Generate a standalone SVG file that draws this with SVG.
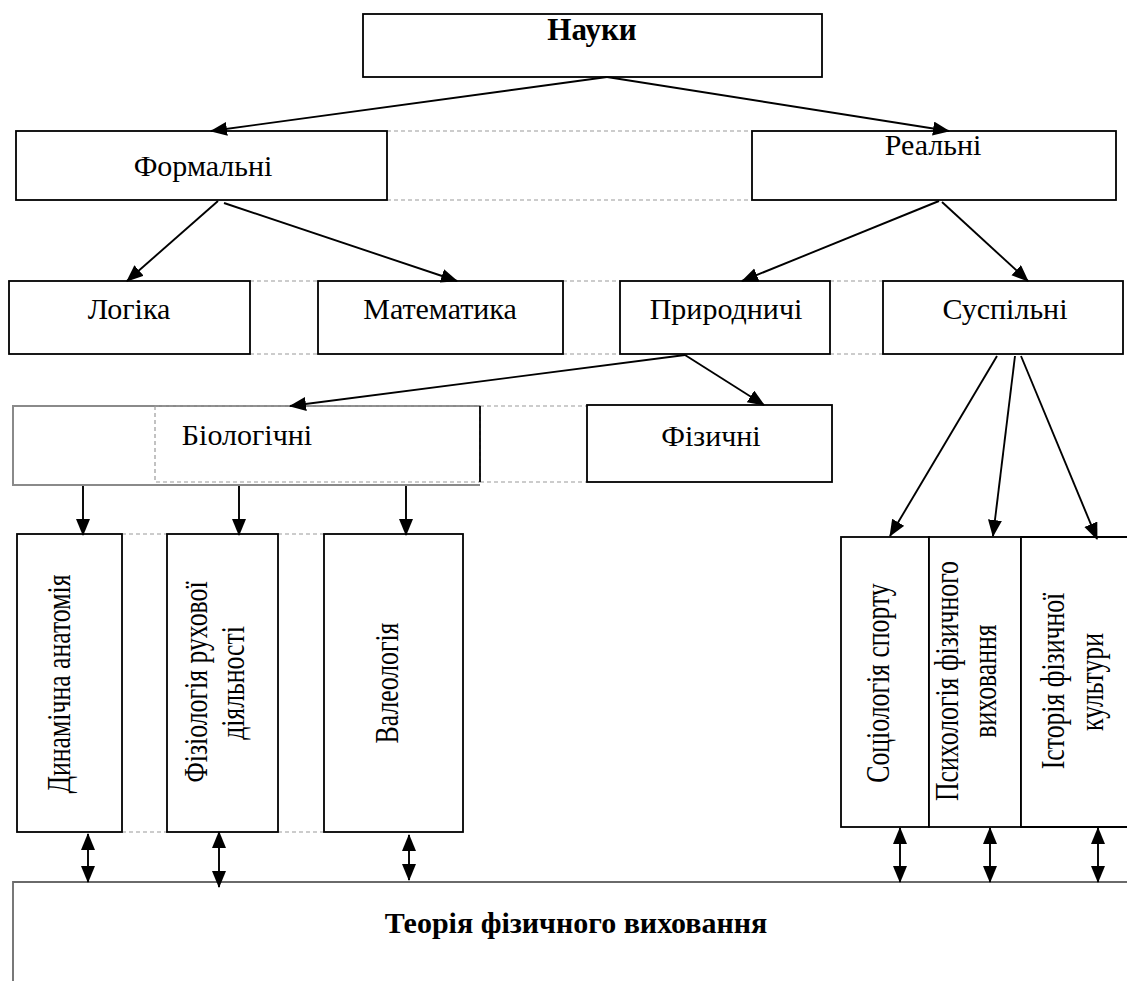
<svg xmlns="http://www.w3.org/2000/svg" width="1127" height="981" viewBox="0 0 1127 981">
<style>
.box{fill:#fff;stroke:#000;stroke-width:1.8}
.dash{fill:none;stroke:#9a9a9a;stroke-width:1.2;stroke-dasharray:4 3}
.t{font-family:"Liberation Serif","DejaVu Serif",serif;font-size:30px;fill:#000;text-anchor:middle}
.b{font-weight:bold}
.v{font-family:"Liberation Serif","DejaVu Serif",serif;font-size:33px;fill:#000;text-anchor:middle}
.ar{fill:none;stroke:#000;stroke-width:1.9;marker-end:url(#ah)}
.dbl{fill:none;stroke:#000;stroke-width:1.9;marker-end:url(#ah);marker-start:url(#ah)}
</style>
<defs>
<marker id="ah" markerUnits="userSpaceOnUse" markerWidth="18" markerHeight="16" refX="16" refY="7" orient="auto-start-reverse" viewBox="0 0 18 16">
<path d="M0,0 L17,7 L0,14 z" fill="#000"/>
</marker>
</defs>
<rect width="1127" height="981" fill="#fff"/>

<g id="dashes">
<line class="dash" x1="387" y1="131" x2="752" y2="131"/>
<line class="dash" x1="387" y1="200" x2="752" y2="200"/>
<line class="dash" x1="250" y1="281" x2="318" y2="281"/>
<line class="dash" x1="250" y1="354" x2="318" y2="354"/>
<line class="dash" x1="563" y1="281" x2="620" y2="281"/>
<line class="dash" x1="563" y1="354" x2="620" y2="354"/>
<line class="dash" x1="830" y1="281" x2="883" y2="281"/>
<line class="dash" x1="830" y1="354" x2="883" y2="354"/>
<line class="dash" x1="480" y1="406" x2="587" y2="406"/>
<line class="dash" x1="480" y1="482" x2="587" y2="482"/>
<line class="dash" x1="122" y1="534" x2="167" y2="534"/>
<line class="dash" x1="122" y1="832" x2="167" y2="832"/>
<line class="dash" x1="278" y1="534" x2="324" y2="534"/>
<line class="dash" x1="278" y1="832" x2="324" y2="832"/>
</g>

<g id="n-nauky"><rect class="box" x="363" y="14" width="459" height="63"/><text class="t b" style="font-size:31px" x="592" y="40">Науки</text></g>
<g id="n-formalni"><rect class="box" x="16" y="131" width="371" height="69"/><text class="t" x="203" y="176">Формальні</text></g>
<g id="n-realni"><rect class="box" x="752" y="131" width="364" height="69"/><text class="t" x="933" y="155">Реальні</text></g>
<g id="n-logika"><rect class="box" x="9" y="281" width="241" height="73"/><text class="t" x="129" y="319">Логіка</text></g>
<g id="n-matematyka"><rect class="box" x="318" y="281" width="245" height="73"/><text class="t" x="440" y="319">Математика</text></g>
<g id="n-pryrodnychi"><rect class="box" x="620" y="281" width="210" height="73"/><text class="t" x="726" y="319">Природничі</text></g>
<g id="n-suspilni"><rect class="box" x="883" y="281" width="240" height="73"/><text class="t" x="1005" y="319">Суспільні</text></g>
<g id="n-biolohichni">
<path d="M480,485 L13,485 L13,406 L480,406" fill="#fff" stroke="#8a8a8a" stroke-width="2"/>
<rect class="dash" x="155" y="406" width="325" height="76"/>
<line x1="480" y1="406" x2="480" y2="482" stroke="#000" stroke-width="1.8"/>
<text class="t" x="247" y="445">Біологічні</text>
</g>
<g id="n-fizychni"><rect class="box" x="587" y="405" width="245" height="77"/><text class="t" x="711" y="446">Фізичні</text></g>

<g id="n-dynamichna"><rect class="box" x="17" y="534" width="105" height="298"/>
<text class="v" transform="translate(70,684) rotate(-90) scale(0.78,1)">Динамічна анатомія</text></g>
<g id="n-fiziolohiya"><rect class="box" x="167" y="534" width="111" height="298"/>
<text class="v" transform="translate(207,682) rotate(-90) scale(0.78,1)">Фізіологія рухової</text>
<text class="v" transform="translate(244,683) rotate(-90) scale(0.78,1)">діяльності</text></g>
<g id="n-valeolohiya"><rect class="box" x="324" y="534" width="139" height="298"/>
<text class="v" transform="translate(398,683) rotate(-90) scale(0.78,1)">Валеологія</text></g>

<g id="n-sotsiolohiya"><rect class="box" x="841" y="537" width="88" height="290"/>
<text class="v" transform="translate(889,683) rotate(-90) scale(0.78,1)">Соціологія спорту</text></g>
<g id="n-psykholohiya"><rect class="box" x="929" y="537" width="92" height="290"/>
<text class="v" transform="translate(958,681) rotate(-90) scale(0.78,1)">Психологія фізичного</text>
<text class="v" transform="translate(996,681) rotate(-90) scale(0.78,1)">виховання</text></g>
<g id="n-istoriya"><path d="M1130,537 L1021,537 L1021,827 L1130,827" fill="#fff" stroke="#000" stroke-width="1.8"/>
<text class="v" transform="translate(1064,681) rotate(-90) scale(0.78,1)">Історія фізичної</text>
<text class="v" transform="translate(1103,682) rotate(-90) scale(0.78,1)">культури</text></g>

<g id="n-teoriya">
<path d="M13,985 L13,882 L1130,882" fill="#fff" stroke="#6a6a6a" stroke-width="1.8"/>
<text class="t b" x="576" y="933">Теорія фізичного виховання</text>
</g>

<g id="connectors">
<line class="ar" x1="607" y1="77" x2="211" y2="131"/>
<line class="ar" x1="607" y1="77" x2="949" y2="131"/>
<line class="ar" x1="218" y1="201" x2="127" y2="281"/>
<line class="ar" x1="224" y1="203" x2="457" y2="281"/>
<line class="ar" x1="939" y1="201" x2="742" y2="281"/>
<line class="ar" x1="942" y1="202" x2="1028" y2="281"/>
<line class="ar" x1="685" y1="355" x2="290" y2="406"/>
<line class="ar" x1="685" y1="355" x2="764" y2="405"/>
<line class="ar" x1="997" y1="356" x2="890" y2="536"/>
<line class="ar" x1="1015" y1="356" x2="993" y2="536"/>
<line class="ar" x1="1021" y1="356" x2="1097" y2="539"/>
<line class="ar" x1="83" y1="486" x2="83" y2="535"/>
<line class="ar" x1="239" y1="486" x2="239" y2="535"/>
<line class="ar" x1="406" y1="486" x2="406" y2="535"/>
<line class="dbl" x1="88" y1="834" x2="88" y2="882"/>
<line class="dbl" x1="219" y1="832" x2="219" y2="887"/>
<line class="dbl" x1="409" y1="835" x2="409" y2="880"/>
<line class="dbl" x1="900" y1="828" x2="900" y2="882"/>
<line class="dbl" x1="990" y1="828" x2="990" y2="882"/>
<line class="dbl" x1="1098" y1="828" x2="1098" y2="882"/>
</g>
</svg>
